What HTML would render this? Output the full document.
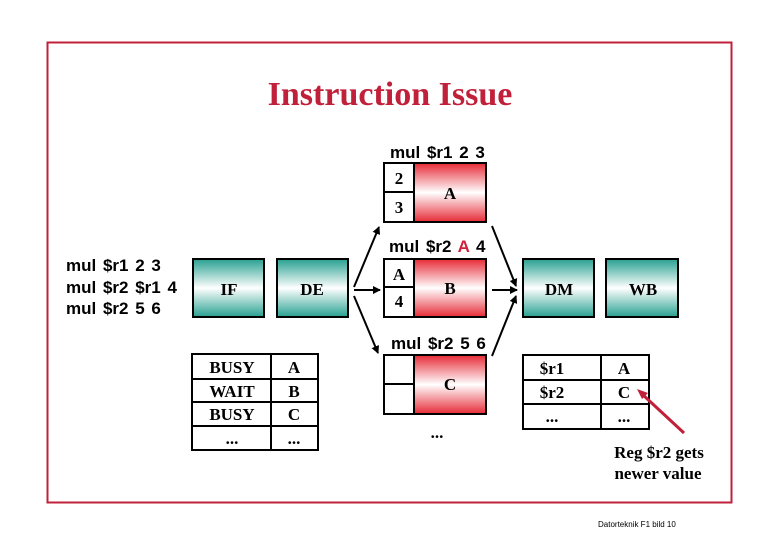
<!DOCTYPE html>
<html><head><meta charset="utf-8"><style>
html,body{margin:0;padding:0;background:#fff}
svg{display:block}
.b{font-family:"Liberation Serif",serif;font-weight:bold;font-size:17px}
.s{font-family:"Liberation Sans",sans-serif;font-weight:bold;font-size:17px;word-spacing:2px}
</style></head><body>
<svg width="780" height="540" viewBox="0 0 780 540" xmlns="http://www.w3.org/2000/svg">
<defs>
<linearGradient id="g" x1="0" y1="0" x2="0" y2="1">
<stop offset="0" stop-color="#27a090"/><stop offset="0.5" stop-color="#ffffff"/><stop offset="1" stop-color="#27a090"/></linearGradient>
<linearGradient id="r" x1="0" y1="0" x2="0" y2="1">
<stop offset="0" stop-color="#e62a36"/><stop offset="0.5" stop-color="#ffffff"/><stop offset="1" stop-color="#e62a36"/></linearGradient>
<marker id="a" markerWidth="8" markerHeight="8" refX="7" refY="4" orient="auto" markerUnits="userSpaceOnUse"><path d="M0,0 L8,4 L0,8 z" fill="#000"/></marker>
</defs>
<rect x="47.5" y="42.5" width="684" height="460" fill="none" stroke="#c0203a" stroke-width="2"/>
<text x="390" y="105" text-anchor="middle" font-family="Liberation Serif,serif" font-weight="bold" font-size="34" fill="#c0203a">Instruction Issue</text>
<g class="s" fill="#000">
<text x="66" y="271">mul $r1  2  3</text>
<text x="66" y="293">mul $r2 $r1 4</text>
<text x="66" y="314">mul $r2  5  6</text>
<text x="390" y="158">mul $r1  2  3</text>
<text x="389" y="252">mul $r2 <tspan fill="#d0203a">A</tspan> 4</text>
<text x="391" y="349">mul $r2  5  6</text>
</g>
<g stroke="#000" stroke-width="2">
<rect x="193" y="259" width="71" height="58" fill="url(#g)"/>
<rect x="277" y="259" width="71" height="58" fill="url(#g)"/>
<rect x="523" y="259" width="71" height="58" fill="url(#g)"/>
<rect x="606" y="259" width="72" height="58" fill="url(#g)"/>
<rect x="414" y="163" width="72" height="59" fill="url(#r)"/>
<rect x="384" y="163" width="30" height="59" fill="#fff"/>
<line x1="384" y1="192" x2="414" y2="192"/>
<rect x="414" y="259" width="72" height="58" fill="url(#r)"/>
<rect x="384" y="259" width="30" height="58" fill="#fff"/>
<line x1="384" y1="287" x2="414" y2="287"/>
<rect x="414" y="355" width="72" height="59" fill="url(#r)"/>
<rect x="384" y="355" width="30" height="59" fill="#fff"/>
<line x1="384" y1="384" x2="414" y2="384"/>
<rect x="192" y="354" width="126" height="96" fill="#fff"/>
<line x1="271" y1="354" x2="271" y2="450"/>
<line x1="192" y1="379" x2="318" y2="379"/>
<line x1="192" y1="402" x2="318" y2="402"/>
<line x1="192" y1="426" x2="318" y2="426"/>
<rect x="523" y="355" width="126" height="74" fill="#fff"/>
<line x1="601" y1="355" x2="601" y2="429"/>
<line x1="523" y1="380" x2="649" y2="380"/>
<line x1="523" y1="404" x2="649" y2="404"/>
</g>
<g stroke="#000" stroke-width="2" marker-end="url(#a)">
<line x1="354" y1="287" x2="379" y2="227"/>
<line x1="354" y1="290" x2="380" y2="290"/>
<line x1="354" y1="296" x2="378" y2="353"/>
<line x1="492" y1="226" x2="516" y2="286"/>
<line x1="492" y1="290" x2="517" y2="290"/>
<line x1="492" y1="356" x2="516" y2="296"/>
</g>
<line x1="684" y1="433" x2="642" y2="394" stroke="#c0203a" stroke-width="3"/>
<path d="M637,389 L648,393 L642,399 z" fill="#c0203a"/>
<g class="b" fill="#000" text-anchor="middle">
<text x="229" y="295">IF</text>
<text x="312" y="295">DE</text>
<text x="559" y="295">DM</text>
<text x="643" y="295">WB</text>
<text x="399" y="184">2</text>
<text x="399" y="213">3</text>
<text x="450" y="199">A</text>
<text x="399" y="280">A</text>
<text x="399" y="307">4</text>
<text x="450" y="294">B</text>
<text x="450" y="390">C</text>
<text x="437" y="438">...</text>
<text x="232" y="373">BUSY</text>
<text x="232" y="397">WAIT</text>
<text x="232" y="420">BUSY</text>
<text x="232" y="444">...</text>
<text x="294" y="373">A</text>
<text x="294" y="397">B</text>
<text x="294" y="420">C</text>
<text x="294" y="444">...</text>
<text x="552" y="374">$r1</text>
<text x="552" y="398">$r2</text>
<text x="552" y="422">...</text>
<text x="624" y="374">A</text>
<text x="624" y="398">C</text>
<text x="624" y="422">...</text>
<text x="659" y="458">Reg $r2 gets</text>
<text x="658" y="479">newer value</text>
</g>
<text x="598" y="527" font-family="Liberation Sans,sans-serif" font-size="8" fill="#000">Datorteknik F1 bild 10</text>
</svg>
</body></html>
